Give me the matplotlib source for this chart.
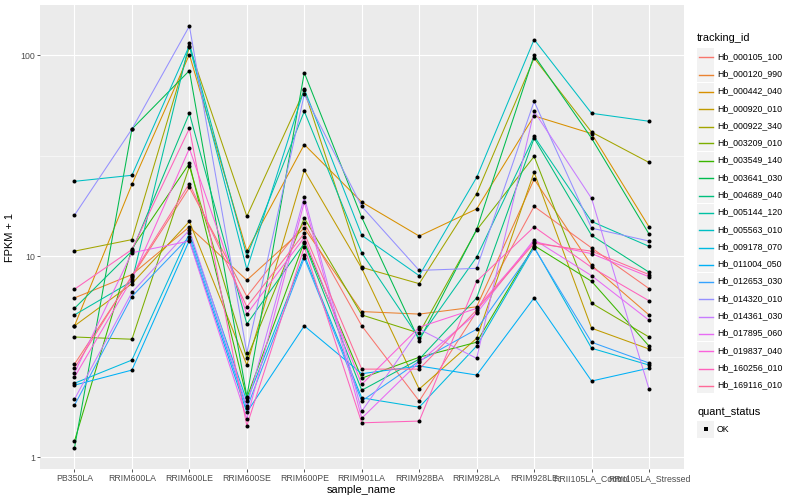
import numpy as np
import matplotlib
matplotlib.use("Agg")
import matplotlib.pyplot as plt
from matplotlib.lines import Line2D
from matplotlib.patches import Rectangle

plt.rcParams['font.family'] = ['Liberation Sans', 'DejaVu Sans']

samples = ["PB350LA", "RRIM600LA", "RRIM600LE", "RRIM600SE", "RRIM600PE",
           "RRIM901LA", "RRIM928BA", "RRIM928LA", "RRIM928LE",
           "RRII105LA_Control", "RRII105LA_Stressed"]

tracking_ids = ["Hb_000105_100", "Hb_000120_990", "Hb_000442_040", "Hb_000920_010",
                "Hb_000922_340", "Hb_003209_010", "Hb_003549_140", "Hb_003641_030",
                "Hb_004689_040", "Hb_005144_120", "Hb_005563_010", "Hb_009178_070",
                "Hb_011004_050", "Hb_012653_030", "Hb_014320_010", "Hb_014361_030",
                "Hb_017895_060", "Hb_019837_040", "Hb_160256_010", "Hb_169116_010"]

hb_000105_100 = [2.9, 7.9, 22, 6.3, 14.6, 4.5, 1.9, 5.3, 17.7, 11, 6.9]
hb_000120_990 = [6.2, 8.1, 14, 7.6, 13.8, 5.3, 5.15, 5.6, 24.2, 9.0, 5.1]
hb_000442_040 = [4.5, 22.8, 101, 10.6, 36, 18.6, 12.6, 17.2, 50, 40.8, 14]
hb_000920_010 = [4.5, 7.3, 14.9, 2.87, 26.8, 8.7, 2.18, 3.9, 26.2, 4.38, 3.45]
hb_000922_340 = [10.6, 12.1, 110, 15.8, 67, 8.8, 7.3, 20.5, 97, 41.5, 29.3]
hb_003209_010 = [3.96, 3.86, 28, 3.1, 15.5, 5.1, 4.14, 13.5, 31.4, 5.84, 3.96]
hb_003549_140 = [1.2, 10.9, 29, 1.97, 11.8, 2.47, 3.14, 3.73, 11.3, 7.5, 3.57]
hb_003641_030 = [1.11, 43, 84, 2.0, 82, 15.6, 3.8, 13.6, 100, 38.7, 12.9]
hb_004689_040 = [5.5, 10.6, 51.5, 4.6, 11.6, 2.15, 3.07, 6.2, 38.7, 12.7, 8.33]
hb_005144_120 = [5.1, 7.5, 115, 10, 52.7, 10.4, 3.9, 9.9, 39.5, 14.9, 11.2]
hb_005563_010 = [23.6, 25.3, 112, 8.6, 68, 12.7, 8.0, 24.7, 120, 51.5, 47]
hb_009178_070 = [2.33, 3.04, 13, 1.9, 10.1, 1.97, 1.77, 3.57, 11.1, 3.48, 2.87]
hb_011004_050 = [2.28, 2.71, 12, 1.67, 4.5, 2.6, 2.84, 2.56, 6.2, 2.39, 2.77]
hb_012653_030 = [1.81, 6.3, 12.5, 1.75, 9.8, 1.9, 3.0, 4.33, 11, 3.73, 2.94]
hb_014320_010 = [16.0, 43, 140, 3.3, 64, 17.7, 8.5, 8.7, 59, 13.8, 11.9]
hb_014361_030 = [1.94, 6.6, 13.5, 1.79, 19.7, 1.69, 4.33, 3.1, 52.7, 19.4, 2.18]
hb_017895_060 = [2.62, 10.4, 11.9, 1.55, 18.6, 1.56, 2.97, 5.2, 12.1, 8.0, 4.8]
hb_019837_040 = [2.5, 7.7, 34.4, 5.15, 12.4, 2.3, 4.43, 5.5, 11.8, 10.3, 7.9]
hb_160256_010 = [6.85, 10.8, 43.3, 1.43, 11.1, 1.48, 1.51, 7.5, 14, 8.8, 6.0]
hb_169116_010 = [2.77, 8.0, 23, 5.6, 13, 2.74, 2.74, 5.4, 11.6, 10.6, 8.1]

series = [hb_000105_100, hb_000120_990, hb_000442_040, hb_000920_010, hb_000922_340,
          hb_003209_010, hb_003549_140, hb_003641_030, hb_004689_040, hb_005144_120,
          hb_005563_010, hb_009178_070, hb_011004_050, hb_012653_030, hb_014320_010,
          hb_014361_030, hb_017895_060, hb_019837_040, hb_160256_010, hb_169116_010]

quant_levels = ["OK"]


def hcl_to_hex(h, c=100.0, l=65.0):
    Xn, Yn, Zn = 95.047, 100.0, 108.883
    h = np.deg2rad(h)
    u = c * np.cos(h)
    v = c * np.sin(h)
    Y = Yn * (((l + 16) / 116) ** 3 if l > 8 else l / 903.3)
    t = Xn + Yn + Zn
    x = Xn / t
    y = Yn / t
    un = 2 * x / (6 * y - x + 1.5)
    vn = 4.5 * y / (6 * y - x + 1.5)
    up = u / (13 * l) + un
    vp = v / (13 * l) + vn
    X = 9.0 * Y * up / (4 * vp)
    Z = -X / 3 - 5 * Y + 3 * Y / vp
    X, Y, Z = X / 100, Y / 100, Z / 100
    r = 3.240479 * X - 1.537150 * Y - 0.498535 * Z
    g = -0.969256 * X + 1.875992 * Y + 0.041556 * Z
    b = 0.055648 * X - 0.204043 * Y + 1.057311 * Z

    def gam(a):
        a = min(max(a, 0.0), 1.0)
        return 12.92 * a if a <= 0.0031308 else 1.055 * a ** (1 / 2.4) - 0.055
    return "#%02X%02X%02X" % tuple(int(round(gam(k) * 255)) for k in (r, g, b))


n = len(tracking_ids)
colors = [hcl_to_hex(15 + 360.0 / n * i) for i in range(n)]

W, H = 800, 500
fig = plt.figure(figsize=(W / 72, H / 72), dpi=72)
fig.patch.set_facecolor("white")

pl, pr, pt, pb = 40, 683.5, 5, 469
ax = fig.add_axes([pl / W, 1 - pb / H, (pr - pl) / W, (pb - pt) / H])
ax.set_facecolor("#EBEBEB")

xpos = np.arange(len(samples))
for vals, col in zip(series, colors):
    ax.plot(xpos, vals, color=col, lw=1.05, zorder=3, solid_capstyle="butt")
for vals in series:
    ax.plot(xpos, vals, linestyle="none", marker="o", ms=4.0, color="black",
            markeredgewidth=0, zorder=4)

ax.set_yscale("log")
allv = np.log10(np.concatenate([np.asarray(s, float) for s in series]))
lo, hi = allv.min(), allv.max()
ex = 0.05 * (hi - lo)
ax.set_ylim(10 ** (lo - ex), 10 ** (hi + ex))
ax.set_xlim(-0.6, len(samples) - 1 + 0.6)

ax.set_yticks([1, 10, 100])
ax.set_yticklabels(["1", "10", "100"])
ax.yaxis.set_minor_locator(matplotlib.ticker.FixedLocator([10 ** -0.5, 10 ** 0.5, 10 ** 1.5, 10 ** 2.5]))
ax.yaxis.set_minor_formatter(matplotlib.ticker.NullFormatter())
ax.set_xticks(xpos)
ax.set_xticklabels(samples)

ax.grid(True, which="major", color="white", lw=1.1, zorder=0)
ax.grid(True, which="minor", axis="y", color="white", lw=0.55, zorder=0)
ax.set_axisbelow(True)
for s in ax.spines.values():
    s.set_visible(False)
ax.tick_params(axis="both", which="major", length=2.75, width=0.8, color="#333333",
               labelcolor="#4D4D4D", labelsize=8.8, pad=2)
ax.tick_params(axis="y", which="minor", length=0)

ax.set_xlabel("sample_name", fontsize=11, color="black", labelpad=2)
ax.set_ylabel("FPKM + 1", fontsize=11, color="black", labelpad=5)


def fx(px):
    return px / W


def fy(py):
    return 1 - py / H


# legend: tracking_id
fig.text(fx(697), fy(38), "tracking_id", fontsize=11, va="center", ha="left")
step = 17.28
y0 = 56.5
for i, (lab, col) in enumerate(zip(tracking_ids, colors)):
    yc = y0 + i * step
    yl = round(yc) + 0.5
    fig.add_artist(Rectangle((fx(697), fy(yc + 8.5)), 17 / W, 17 / H,
                             transform=fig.transFigure, facecolor="#F2F2F2",
                             edgecolor="none", zorder=1))
    fig.add_artist(Line2D([fx(698.5), fx(712.5)], [fy(yl), fy(yl)],
                          transform=fig.transFigure, color=col, lw=1.4, zorder=2))
    fig.text(fx(717), fy(yc), lab, fontsize=8.8, va="center", ha="left")

# legend: quant_status
fig.text(fx(697), fy(412), "quant_status", fontsize=11, va="center", ha="left")
for j, lab in enumerate(quant_levels):
    yc = 429 + j * step
    fig.add_artist(Rectangle((fx(697), fy(yc + 8.5)), 17 / W, 17 / H,
                             transform=fig.transFigure, facecolor="#F2F2F2",
                             edgecolor="none", zorder=1))
    fig.add_artist(Line2D([fx(705.5)], [fy(yc)], transform=fig.transFigure,
                          marker="s", ms=3.5, color="black", markeredgewidth=0,
                          linestyle="none", zorder=2))
    fig.text(fx(717), fy(yc), lab, fontsize=8.8, va="center", ha="left")

fig.savefig("out.png", dpi=72)
